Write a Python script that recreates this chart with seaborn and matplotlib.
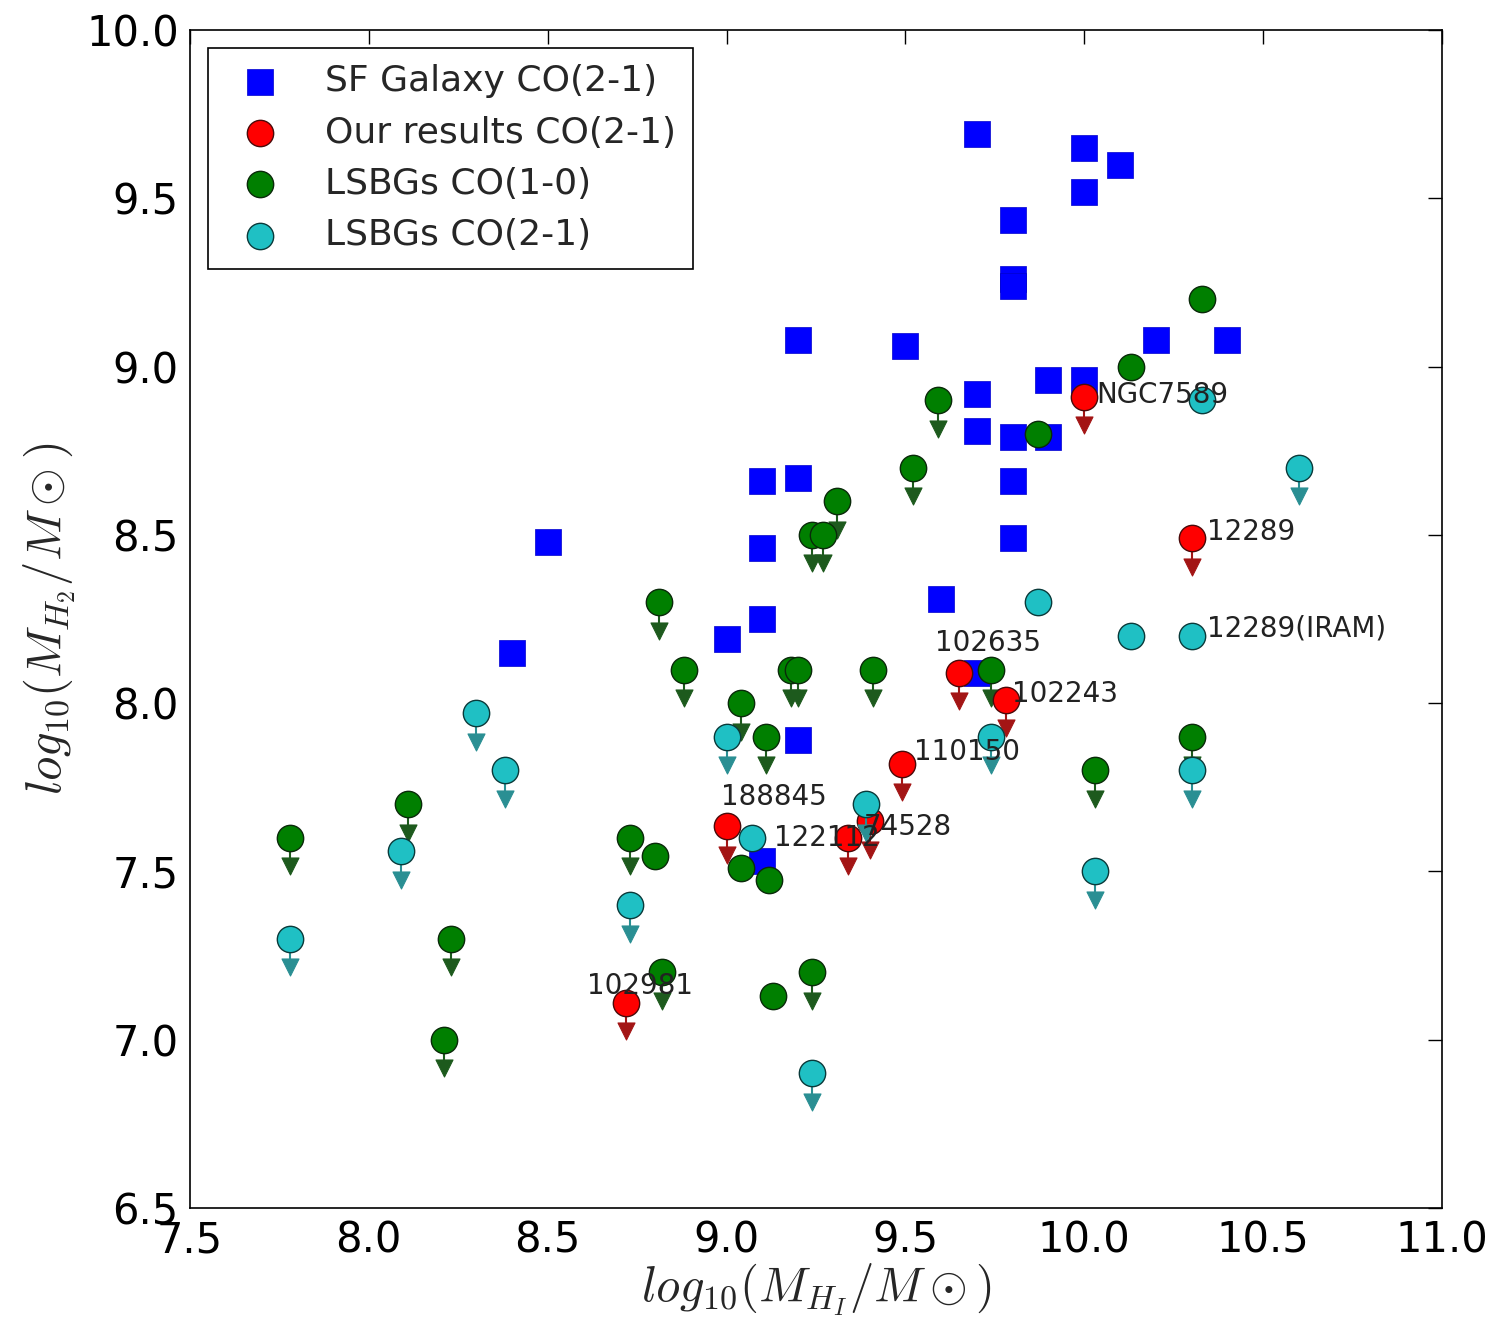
import numpy as np
import pandas as pd
import seaborn as sns
import matplotlib.pyplot as plt

# --- data (log10 M_HI, log10 M_H2) ---
sf_x = [9.70, 10.0, 10.1, 10.0, 9.80, 9.80, 9.80, 9.20, 9.50, 10.2, 10.4, 9.90, 10.0, 9.70, 9.70,
        9.80, 9.90, 9.80, 9.10, 9.20, 8.50, 9.10, 9.80, 8.40, 9.00, 9.10, 9.60, 9.70, 9.20, 9.10]
sf_y = [9.69, 9.65, 9.60, 9.52, 9.435, 9.26, 9.24, 9.08, 9.06, 9.08, 9.08, 8.96, 8.96, 8.92, 8.81,
        8.79, 8.79, 8.66, 8.66, 8.67, 8.48, 8.46, 8.49, 8.15, 8.19, 8.25, 8.31, 8.09, 7.89, 7.53]

ours_x = [8.72, 9.00, 9.34, 9.40, 9.49, 9.65, 9.78, 10.0, 10.3]
ours_y = [7.11, 7.635, 7.60, 7.65, 7.82, 8.09, 8.01, 8.91, 8.49]
ours_names = ['102981', '188845', '122112', '74528', '110150', '102635', '102243', 'NGC7589', '12289']

co10_x = [7.78, 8.11, 8.23, 8.21, 8.81, 8.88, 9.04, 9.11, 8.73, 8.80, 9.04, 9.12, 8.82, 9.24, 9.13,
          9.18, 9.20, 9.24, 9.27, 9.31, 9.41, 9.52, 9.59, 9.74, 9.87, 10.13, 10.33, 10.03, 10.30]
co10_y = [7.60, 7.70, 7.30, 7.00, 8.30, 8.10, 8.00, 7.90, 7.60, 7.545, 7.51, 7.475, 7.20, 7.20, 7.13,
          8.10, 8.10, 8.50, 8.50, 8.60, 8.10, 8.70, 8.90, 8.10, 8.80, 9.00, 9.20, 7.80, 7.90]
co10_lim = [1, 1, 1, 1, 1, 1, 1, 1, 1, 0, 0, 0, 1, 1, 0,
            1, 1, 1, 1, 1, 1, 1, 1, 1, 0, 0, 0, 1, 1]

co21_x = [7.78, 8.09, 8.30, 8.38, 8.73, 9.00, 9.07, 9.39, 9.24, 9.74, 9.87, 10.13, 10.30, 10.30,
          10.03, 10.33, 10.60]
co21_y = [7.30, 7.56, 7.97, 7.80, 7.40, 7.90, 7.60, 7.70, 6.90, 7.90, 8.30, 8.20, 8.20, 7.80,
          7.50, 8.90, 8.70]
co21_lim = [1, 1, 1, 1, 1, 1, 0, 1, 1, 1, 0, 0, 0, 1,
            1, 0, 1]

# label offsets in pixels (dx, dy, ha)
label_pos = {
    '102981': (14, 17, 'center'), '188845': (47, 29, 'center'), '122112': (-74, 0, 'left'),
    '74528': (-6, -6, 'left'), '110150': (12, 12, 'left'), '102635': (29, 30, 'center'),
    '102243': (6, 6, 'left'), 'NGC7589': (12, 2, 'left'), '12289': (15, 6, 'left'),
}

ARROW = 0.085

sf = pd.DataFrame({'x': sf_x, 'y': sf_y})
ours = pd.DataFrame({'x': ours_x, 'y': ours_y, 'lim': 1, 'name': ours_names})
co10 = pd.DataFrame({'x': co10_x, 'y': co10_y, 'lim': co10_lim})
co21 = pd.DataFrame({'x': co21_x, 'y': co21_y, 'lim': co21_lim})

sns.set_theme(style='white')
plt.rcParams['font.family'] = ['DejaVu Sans']
plt.rcParams['mathtext.fontset'] = 'cm'

fig = plt.figure(figsize=(14.98, 13.21), dpi=100)
ax = fig.add_axes([0.1268, 0.0855, 0.8358, 0.8918])


def upper_limits(df, dark, z):
    lim = df[df['lim'] == 1]
    ax.vlines(lim['x'], lim['y'] - ARROW, lim['y'], color=dark, lw=1.5, zorder=z)
    sns.scatterplot(x=lim['x'], y=lim['y'] - ARROW, marker='v', s=150, color=dark,
                    edgecolor=dark, linewidth=0.8, ax=ax, zorder=z, legend=False)


sns.scatterplot(data=sf, x='x', y='y', marker='s', s=330, color='#0000ff', edgecolor='#0000cc',
                linewidth=0.5, ax=ax, zorder=2, label='SF Galaxy CO(2-1)')

upper_limits(co10, '#1d5a1d', 3)
sns.scatterplot(data=co10, x='x', y='y', marker='o', s=360, color='#007f00', edgecolor='#0a2a0a',
                linewidth=1.0, ax=ax, zorder=3.1, label='LSBGs CO(1-0)')

upper_limits(ours, '#a31515', 4)
sns.scatterplot(data=ours, x='x', y='y', marker='o', s=360, color='#ff0000', edgecolor='#4a0a0a',
                linewidth=1.0, ax=ax, zorder=4.1, label='Our results CO(2-1)')

upper_limits(co21, '#2a8f93', 5)
sns.scatterplot(data=co21, x='x', y='y', marker='o', s=360, color='#1fc0c4', edgecolor='#0a3a3a',
                linewidth=1.0, ax=ax, zorder=5.1, label='LSBGs CO(2-1)')

for _, r in ours.iterrows():
    dx, dy, ha = label_pos[r['name']]
    ax.annotate(r['name'], (r['x'], r['y']), xytext=(dx, dy), textcoords='offset pixels',
                ha=ha, va='center', fontsize=20, color='#222222', zorder=6)

ax.annotate('12289(IRAM)', (co21_x[12], co21_y[12]), xytext=(15, 7), textcoords='offset pixels',
            ha='left', va='center', fontsize=20, color='#222222', zorder=6)

ax.set_xlim(7.5, 11.0)
ax.set_ylim(6.5, 10.0)
ax.set_xticks(np.arange(7.5, 11.01, 0.5))
ax.set_yticks(np.arange(6.5, 10.01, 0.5))
ax.xaxis.set_major_formatter(plt.FormatStrFormatter('%.1f'))
ax.yaxis.set_major_formatter(plt.FormatStrFormatter('%.1f'))
ax.tick_params(direction='in', length=10, width=1, top=True, right=True, labelsize=30, pad=8,
               colors='black')
for s in ax.spines.values():
    s.set_color('black')
    s.set_linewidth(1.2)

ax.set_xlabel(r'$log_{10}(M_{H_I}/M\odot)$', fontsize=35, labelpad=0)
ax.set_ylabel(r'$log_{10}(M_{H_2}/M\odot)$', fontsize=35, labelpad=6)

h, l = ax.get_legend_handles_labels()
order = ['SF Galaxy CO(2-1)', 'Our results CO(2-1)', 'LSBGs CO(1-0)', 'LSBGs CO(2-1)']
hh = [h[l.index(o)] for o in order]
leg = ax.legend(hh, order, loc='upper left', fontsize=26, frameon=True, fancybox=False,
                borderpad=0.45, labelspacing=0.48, handletextpad=0.8, borderaxespad=0.5,
                edgecolor='black', framealpha=1)
leg.get_frame().set_linewidth(1.2)
leg.set_zorder(10)

fig.savefig('out.png', dpi=100)
